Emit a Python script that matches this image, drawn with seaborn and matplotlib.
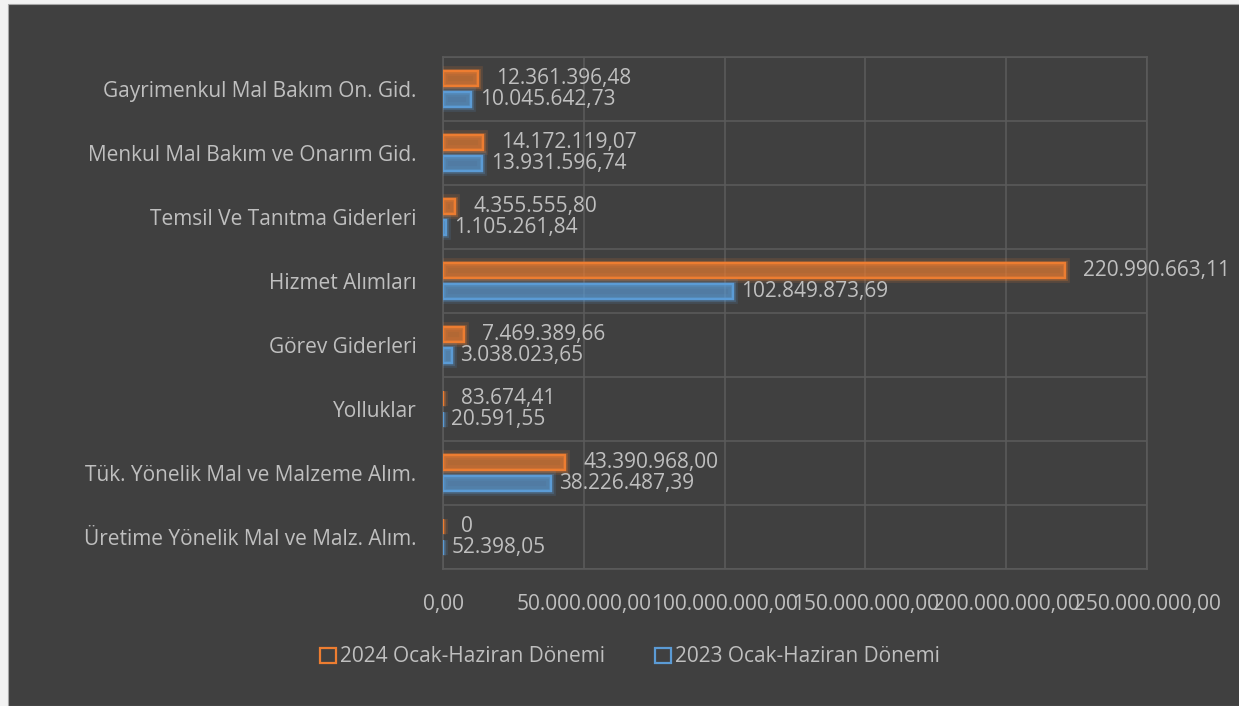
import pandas as pd
import numpy as np
import matplotlib
matplotlib.use("Agg")
import matplotlib.pyplot as plt
import matplotlib.patheffects as pe
from matplotlib.patches import Rectangle
import seaborn as sns

categories = [
    "Gayrimenkul Mal Bakım On. Gid.",
    "Menkul Mal Bakım ve Onarım Gid.",
    "Temsil Ve Tanıtma Giderleri",
    "Hizmet Alımları",
    "Görev Giderleri",
    "Yolluklar",
    "Tük. Yönelik Mal ve Malzeme Alım.",
    "Üretime Yönelik Mal ve Malz. Alım.",
]
values_2024 = [12361396.48, 14172119.07, 4355555.80, 220990663.11,
               7469389.66, 83674.41, 43390968.00, 0]
values_2023 = [10045642.73, 13931596.74, 1105261.84, 102849873.69,
               3038023.65, 20591.55, 38226487.39, 52398.05]
labels_2024 = ["12.361.396,48", "14.172.119,07", "4.355.555,80", "220.990.663,11",
               "7.469.389,66", "83.674,41", "43.390.968,00", "0"]
labels_2023 = ["10.045.642,73", "13.931.596,74", "1.105.261,84", "102.849.873,69",
               "3.038.023,65", "20.591,55", "38.226.487,39", "52.398,05"]
series = ["2024 Ocak-Haziran Dönemi", "2023 Ocak-Haziran Dönemi"]
colors = ["#ED7D31", "#5B9BD5"]

df = pd.DataFrame({
    "kalem": categories * 2,
    "tutar": values_2024 + values_2023,
    "donem": [series[0]] * len(categories) + [series[1]] * len(categories),
})

BG = "#404040"
TXT = "#BFBFBF"
GRID = "#5A5A5A"
FS = 15

sns.set_theme(style="dark")
plt.rcParams["font.family"] = ["Open Sans", "DejaVu Sans"]

fig = plt.figure(figsize=(12.39, 7.06), dpi=100, facecolor="#F2F2F2")
fig.patches.append(Rectangle((8 / 1239, 0), 1, 1 - 4 / 706, transform=fig.transFigure,
                             facecolor=BG, edgecolor="#A6A6A6", lw=0.8, zorder=-10))
ax = fig.add_axes([443 / 1239, 1 - 569 / 706, 704 / 1239, 512 / 706])
ax.set_facecolor(BG)

sns.barplot(data=df, y="kalem", x="tutar", hue="donem", hue_order=series,
            palette=colors, orient="h", width=0.66, gap=0.25, ax=ax,
            legend=False, errorbar=None)

# outlined bars with soft glow
for cont, col in zip(ax.containers, colors):
    for bar in cont:
        bar.set_facecolor(matplotlib.colors.to_rgba(col, 0.28))
        bar.set_edgecolor(col)
        bar.set_linewidth(1.6)
        bar.set_path_effects([pe.withStroke(linewidth=7, foreground=col, alpha=0.15),
                              pe.withStroke(linewidth=3.5, foreground=col, alpha=0.25)])
        bar.set_zorder(3)

for cont, labs, pad in zip(ax.containers, [labels_2024, labels_2023], [13, 6]):
    ax.bar_label(cont, labels=labs, padding=pad, color=TXT, fontsize=FS)

ax.set_xlim(0, 250_000_000)
ticks = np.arange(0, 250_000_001, 50_000_000)
ax.set_xticks(ticks)

def tr_fmt(v, pos=None):
    return f"{v:,.2f}".replace(",", "X").replace(".", ",").replace("X", ".")

ax.xaxis.set_major_formatter(plt.FuncFormatter(tr_fmt))
ax.tick_params(axis="x", colors=TXT, labelsize=FS, pad=18, length=0)
ax.tick_params(axis="y", colors=TXT, labelsize=FS, pad=19, length=0)
ax.set_xlabel("")
ax.set_ylabel("")

ax.grid(axis="x", color=GRID, lw=1.2)
for yb in np.arange(-0.5, len(categories), 1):
    ax.axhline(yb, color=GRID, lw=1.2, zorder=1)
for s in ax.spines.values():
    s.set_color(GRID)
    s.set_linewidth(1.2)

handles = [Rectangle((0, 0), 1, 1, facecolor="none", edgecolor=c, lw=1.6) for c in colors]
fig.legend(handles, series, loc="center", bbox_to_anchor=(630 / 1239, 1 - 657 / 706),
           ncol=2, frameon=False, fontsize=FS, labelcolor=TXT,
           handlelength=0.75, handleheight=0.75, handletextpad=0.2, columnspacing=2.4)

fig.savefig("out.png", dpi=100, facecolor=fig.get_facecolor())
